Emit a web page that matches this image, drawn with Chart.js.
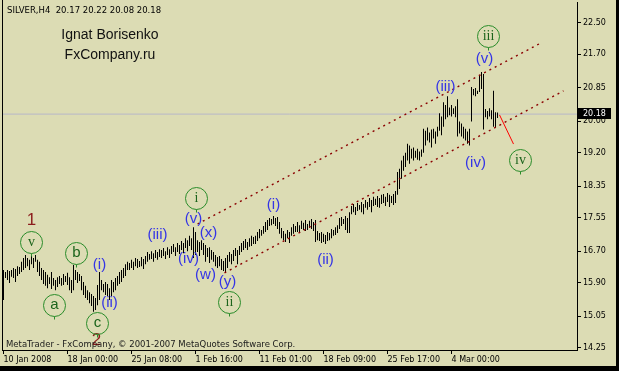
<!DOCTYPE html>
<html>
<head>
<meta charset="utf-8">
<script src="https://cdn.jsdelivr.net/npm/chart.js@4.4.1/dist/chart.umd.min.js"></script>
<style>
  html, body { margin: 0; padding: 0; background: #dcdcb4; }
  canvas { display: block; }
</style>
</head>
<body>
<canvas id="silverChart" width="619" height="371"></canvas>
<script>
// SILVER H4 bars, one per 4 hours (high / low)
const highs = [
  16.22, 16.17, 16.22, 16.20, 16.22, 16.27, 16.25, 16.32, 16.30, 16.43,
  16.53, 16.60, 16.53, 16.48, 16.58, 16.53, 16.60, 16.48, 16.43, 16.27,
  16.22, 16.17, 16.10, 16.04, 16.17, 16.02, 15.97, 16.04, 16.07, 16.02,
  16.12, 16.07, 16.15, 16.04, 15.97, 16.35, 16.22, 16.17, 16.12, 16.07,
  15.92, 15.82, 15.71, 15.66, 15.61, 15.56, 15.51, 15.84, 16.17, 15.97,
  15.87, 15.92, 15.87, 15.76, 15.97, 15.92, 16.02, 16.07, 16.17, 16.22,
  16.27, 16.37, 16.43, 16.40, 16.48, 16.43, 16.53, 16.50, 16.45, 16.55,
  16.50, 16.58, 16.68, 16.63, 16.70, 16.65, 16.73, 16.68, 16.75, 16.73,
  16.78, 16.70, 16.80, 16.75, 16.83, 16.88, 16.80, 16.91, 16.86, 16.96,
  16.91, 17.03, 16.98, 17.09, 17.03, 17.31, 17.19, 16.98, 16.93, 16.98,
  16.91, 16.86, 16.78, 16.80, 16.73, 16.68, 16.60, 16.55, 16.58, 16.50,
  16.45, 16.53, 16.60, 16.68, 16.63, 16.73, 16.78, 16.73, 16.83, 16.91,
  16.96, 17.01, 16.93, 17.03, 17.09, 17.06, 17.09, 17.19, 17.26, 17.24,
  17.34, 17.44, 17.49, 17.54, 17.52, 17.59, 17.54, 17.57, 17.44, 17.29,
  17.21, 17.14, 17.24, 17.19, 17.31, 17.39, 17.34, 17.44, 17.36, 17.47,
  17.42, 17.49, 17.39, 17.47, 17.52, 17.44, 17.49, 17.21, 17.16, 17.19,
  17.14, 17.11, 17.19, 17.16, 17.26, 17.24, 17.31, 17.36, 17.54, 17.57,
  17.52, 17.59, 17.54, 17.69, 17.85, 17.90, 17.82, 17.92, 17.87, 17.95,
  17.90, 18.00, 17.95, 18.05, 18.00, 18.08, 18.03, 18.10, 18.05, 18.13,
  18.15, 18.08, 18.18, 18.13, 18.10, 18.15, 18.23, 18.71, 18.79, 19.00,
  19.12, 19.20, 19.43, 19.38, 19.30, 19.33, 19.25, 19.30, 19.23, 19.28,
  19.81, 19.76, 19.84, 19.71, 19.79, 19.81, 19.74, 19.86, 20.20, 20.12,
  20.48, 20.41, 20.63, 20.35, 20.41, 20.33, 20.38, 20.56, 19.99, 19.94,
  19.86, 19.81, 19.74, 19.81, 20.87, 20.82, 20.84, 20.77, 21.18, 21.25,
  21.20, 20.31, 20.26, 20.33, 20.28, 20.77, 20.23, 20.22
];
const lows = [
  15.46, 16.02, 15.97, 15.89, 16.05, 16.02, 15.92, 16.07, 16.12, 16.17,
  16.22, 16.27, 16.32, 16.22, 16.37, 16.27, 16.43, 16.17, 16.07, 15.97,
  15.87, 15.82, 15.76, 15.87, 15.74, 15.82, 15.71, 15.79, 15.87, 15.82,
  15.84, 15.92, 15.84, 15.71, 15.64, 15.71, 15.97, 15.89, 15.94, 15.71,
  15.59, 15.51, 15.46, 15.38, 15.31, 15.16, 15.21, 15.33, 15.46, 15.71,
  15.66, 15.59, 15.56, 15.46, 15.56, 15.66, 15.71, 15.82, 15.87, 15.92,
  16.02, 16.07, 16.22, 16.22, 16.27, 16.22, 16.32, 16.27, 16.30, 16.32,
  16.25, 16.37, 16.43, 16.48, 16.50, 16.43, 16.53, 16.48, 16.55, 16.53,
  16.58, 16.50, 16.60, 16.53, 16.63, 16.68, 16.58, 16.68, 16.63, 16.73,
  16.65, 16.78, 16.70, 16.83, 16.73, 16.53, 16.60, 16.68, 16.58, 16.73,
  16.60, 16.43, 16.55, 16.40, 16.48, 16.43, 16.32, 16.27, 16.32, 16.22,
  16.20, 16.17, 16.27, 16.43, 16.37, 16.45, 16.58, 16.37, 16.60, 16.68,
  16.73, 16.78, 16.73, 16.81, 16.83, 16.88, 16.88, 16.96, 17.03, 17.09,
  17.14, 17.19, 17.24, 17.34, 17.36, 17.39, 17.34, 17.26, 17.14, 17.03,
  16.98, 16.93, 17.03, 16.91, 17.09, 17.14, 17.19, 17.19, 17.16, 17.26,
  17.24, 17.21, 17.24, 17.29, 17.26, 17.21, 16.93, 16.98, 16.96, 16.91,
  16.93, 16.88, 16.96, 16.98, 17.03, 17.09, 17.11, 17.16, 17.26, 17.34,
  17.39, 17.24, 17.16, 17.16, 17.64, 17.69, 17.62, 17.72, 17.75, 17.69,
  17.64, 17.80, 17.75, 17.82, 17.69, 17.85, 17.87, 17.82, 17.80, 17.90,
  17.92, 17.85, 17.95, 17.82, 17.92, 17.87, 17.92, 18.13, 18.28, 18.54,
  18.74, 18.84, 19.00, 18.92, 19.05, 19.00, 19.07, 19.02, 19.00, 19.10,
  19.20, 19.38, 19.51, 19.46, 19.33, 19.56, 19.43, 19.61, 19.76, 19.64,
  19.86, 20.05, 20.10, 20.15, 20.12, 20.18, 20.10, 19.61, 19.69, 19.61,
  19.56, 19.51, 19.43, 19.38, 19.99, 20.66, 20.63, 20.69, 20.74, 20.82,
  19.79, 20.10, 20.05, 20.12, 20.05, 19.86, 19.84, 20.08
];

const xTickBars = [0, 32, 64, 96, 128, 160, 192, 224];
const xTickLabels = ['10 Jan 2008', '18 Jan 00:00', '25 Jan 08:00', '1 Feb 16:00',
  '11 Feb 01:00', '18 Feb 09:00', '25 Feb 17:00', '4 Mar 00:00'];
const yTickValues = [14.25, 15.05, 15.90, 16.70, 17.55, 18.35, 19.20, 20.00, 20.85, 21.70, 22.50];
const lastPrice = 20.18;

// channel and projection lines, in (bar, price)
const upperChannel = [{ x: 97, y: 17.39 }, { x: 268.5, y: 21.98 }];
const lowerChannel = [{ x: 110.5, y: 16.15 }, { x: 280, y: 20.77 }];
const projection = [{ x: 248, y: 20.16 }, { x: 255, y: 19.42 }];

// wave marks, in (bar, price)
const circledWaves = [
  { text: 'v', x: 13.5, y: 16.93, roman: true },
  { text: 'a', x: 25, y: 15.34 },
  { text: 'b', x: 36, y: 16.66 },
  { text: 'c', x: 46.5, y: 14.88 },
  { text: 'i', x: 96, y: 18.05, roman: true },
  { text: 'ii', x: 112.5, y: 15.41, roman: true },
  { text: 'iii', x: 242, y: 22.16, roman: true },
  { text: 'iv', x: 258, y: 19.01, roman: true }
];
const minorWaves = [
  { text: '(i)', x: 48, y: 16.35 },
  { text: '(ii)', x: 53, y: 15.39 },
  { text: '(iii)', x: 77, y: 17.11 },
  { text: '(v)', x: 95, y: 17.52 },
  { text: '(iv)', x: 92.5, y: 16.50 },
  { text: '(x)', x: 102.5, y: 17.16 },
  { text: '(w)', x: 101, y: 16.10 },
  { text: '(y)', x: 112, y: 15.92 },
  { text: '(i)', x: 135, y: 17.87 },
  { text: '(ii)', x: 161, y: 16.48 },
  { text: '(iii)', x: 221, y: 20.87 },
  { text: '(v)', x: 240.5, y: 21.58 },
  { text: '(iv)', x: 236, y: 18.94 }
];
const degreeWaves = [
  { text: '1', x: 14, y: 17.49 },
  { text: '2', x: 46.5, y: 14.45 }
];

const BG = '#dcdcb4';
const SMALL = '8px "DejaVu Sans"';

const bars = highs.map((h, i) => ({ x: i, y: [lows[i], h] }));

const mt4Frame = {
  id: 'mt4Frame',
  beforeDraw(chart) {
    const { ctx, width, height } = chart;
    ctx.save();
    ctx.fillStyle = BG;
    ctx.fillRect(0, 0, width, height);
    ctx.restore();
  },
  afterDatasetsDraw(chart) {
    const { ctx } = chart;
    const xs = chart.scales.x, ys = chart.scales.y;
    ctx.save();
    ctx.textAlign = 'center';
    ctx.textBaseline = 'middle';

    // degree numbers
    ctx.fillStyle = '#8b1c1c';
    ctx.font = '17px "Liberation Sans"';
    degreeWaves.forEach(w => ctx.fillText(w.text, xs.getPixelForValue(w.x), ys.getPixelForValue(w.y)));

    // minor waves in blue
    ctx.fillStyle = '#3434e6';
    ctx.font = '15px "Liberation Sans"';
    minorWaves.forEach(w => ctx.fillText(w.text, xs.getPixelForValue(w.x), ys.getPixelForValue(w.y)));

    // circled waves
    circledWaves.forEach(w => {
      const px = Math.round(xs.getPixelForValue(w.x)) + 0.5;
      const py = Math.round(ys.getPixelForValue(w.y)) + 0.5;
      ctx.strokeStyle = '#2a8c2a';
      ctx.lineWidth = 1;
      ctx.beginPath();
      ctx.arc(px, py, 11, 0, Math.PI * 2);
      ctx.stroke();
      ctx.beginPath();
      ctx.moveTo(px, py + 11);
      ctx.lineTo(px, py + 14);
      ctx.stroke();
      ctx.fillStyle = '#1c641c';
      ctx.font = w.roman ? '14px "Liberation Serif"' : '15px "Liberation Sans"';
      ctx.fillText(w.text, px, py + (w.roman ? 0 : -1));
    });
    ctx.restore();
  },
  afterDraw(chart) {
    const { ctx, chartArea } = chart;
    const ys = chart.scales.y;
    ctx.save();

    // left border of the plot
    ctx.fillStyle = '#000';
    ctx.fillRect(chartArea.left, 0, 1, chartArea.bottom + 1);

    // current price box
    const py = Math.round(ys.getPixelForValue(lastPrice));
    ctx.fillStyle = '#000';
    ctx.fillRect(578, py - 6, 33, 11);
    ctx.fillStyle = '#fff';
    ctx.font = SMALL;
    ctx.textBaseline = 'middle';
    ctx.textAlign = 'left';
    ctx.fillText(lastPrice.toFixed(2), 583, py);

    // texts
    ctx.fillStyle = '#000';
    ctx.font = '8.5px "DejaVu Sans"';
    ctx.fillText('SILVER,H4  20.17 20.22 20.08 20.18', 7, 11);
    ctx.fillStyle = '#1a1a1a';
    ctx.fillText('MetaTrader - FxCompany, \u00a9 2001-2007 MetaQuotes Software Corp.', 6, 345);

    ctx.fillStyle = '#111';
    ctx.font = '14px "Liberation Sans"';
    ctx.textAlign = 'center';
    ctx.fillText('Ignat Borisenko', 110, 35);
    ctx.fillText('FxCompany.ru', 110, 55);

    // window frame
    ctx.fillStyle = '#000';
    ctx.fillRect(0, 366, 619, 5);
    ctx.fillRect(616, 0, 3, 371);
    ctx.restore();
  }
};

const ctx = document.getElementById('silverChart').getContext('2d');
new Chart(ctx, {
  type: 'bar',
  data: {
    datasets: [
      {
        type: 'line',
        data: [{ x: -0.75, y: lastPrice }, { x: 286.75, y: lastPrice }],
        borderColor: '#b8b8c8',
        borderWidth: 1,
        pointRadius: 0,
        order: 4
      },
      {
        type: 'bar',
        data: bars,
        backgroundColor: '#000',
        barThickness: 1,
        borderWidth: 0,
        inflateAmount: 0,
        order: 3
      },
      {
        type: 'line',
        data: upperChannel,
        borderColor: '#8b0000',
        borderWidth: 1.4,
        borderDash: [2, 4],
        pointRadius: 0,
        order: 2
      },
      {
        type: 'line',
        data: lowerChannel,
        borderColor: '#8b0000',
        borderWidth: 1.4,
        borderDash: [2, 4],
        pointRadius: 0,
        order: 2
      },
      {
        type: 'line',
        data: projection,
        borderColor: '#ff0000',
        borderWidth: 1,
        pointRadius: 0,
        order: 1
      }
    ]
  },
  options: {
    responsive: false,
    animation: false,
    devicePixelRatio: 1,
    layout: { padding: { left: 2, top: 2, right: 0, bottom: 0 } },
    plugins: {
      legend: { display: false },
      tooltip: { enabled: false }
    },
    scales: {
      x: {
        type: 'linear',
        min: -0.75,
        max: 286.75,
        offset: false,
        afterBuildTicks: (s) => { s.ticks = xTickBars.map(v => ({ value: v })); },
        afterFit: (s) => { s.height = 21; s.paddingLeft = 0; s.paddingRight = 0; },
        ticks: {
          autoSkip: false, maxRotation: 0, minRotation: 0, align: 'start', padding: 1,
          color: '#000', font: { family: 'DejaVu Sans', size: 8 },
          callback: (v, i) => xTickLabels[i]
        },
        grid: { offset: false, drawOnChartArea: false, drawTicks: true, tickLength: 4, color: '#000' },
        border: { display: true, color: '#000' }
      },
      y: {
        type: 'linear',
        position: 'right',
        min: 14.1916,
        max: 23.0255,
        afterBuildTicks: (s) => { s.ticks = yTickValues.map(v => ({ value: v })); },
        afterFit: (s) => { s.width = 42; s.paddingTop = 0; s.paddingBottom = 0; },
        ticks: {
          padding: 2, color: '#000', font: { family: 'DejaVu Sans', size: 8 },
          callback: (v) => Number(v).toFixed(2)
        },
        grid: { drawOnChartArea: false, drawTicks: true, tickLength: 4, color: '#000' },
        border: { display: true, color: '#000' }
      }
    }
  },
  plugins: [mt4Frame]
});
</script>
</body>
</html>
